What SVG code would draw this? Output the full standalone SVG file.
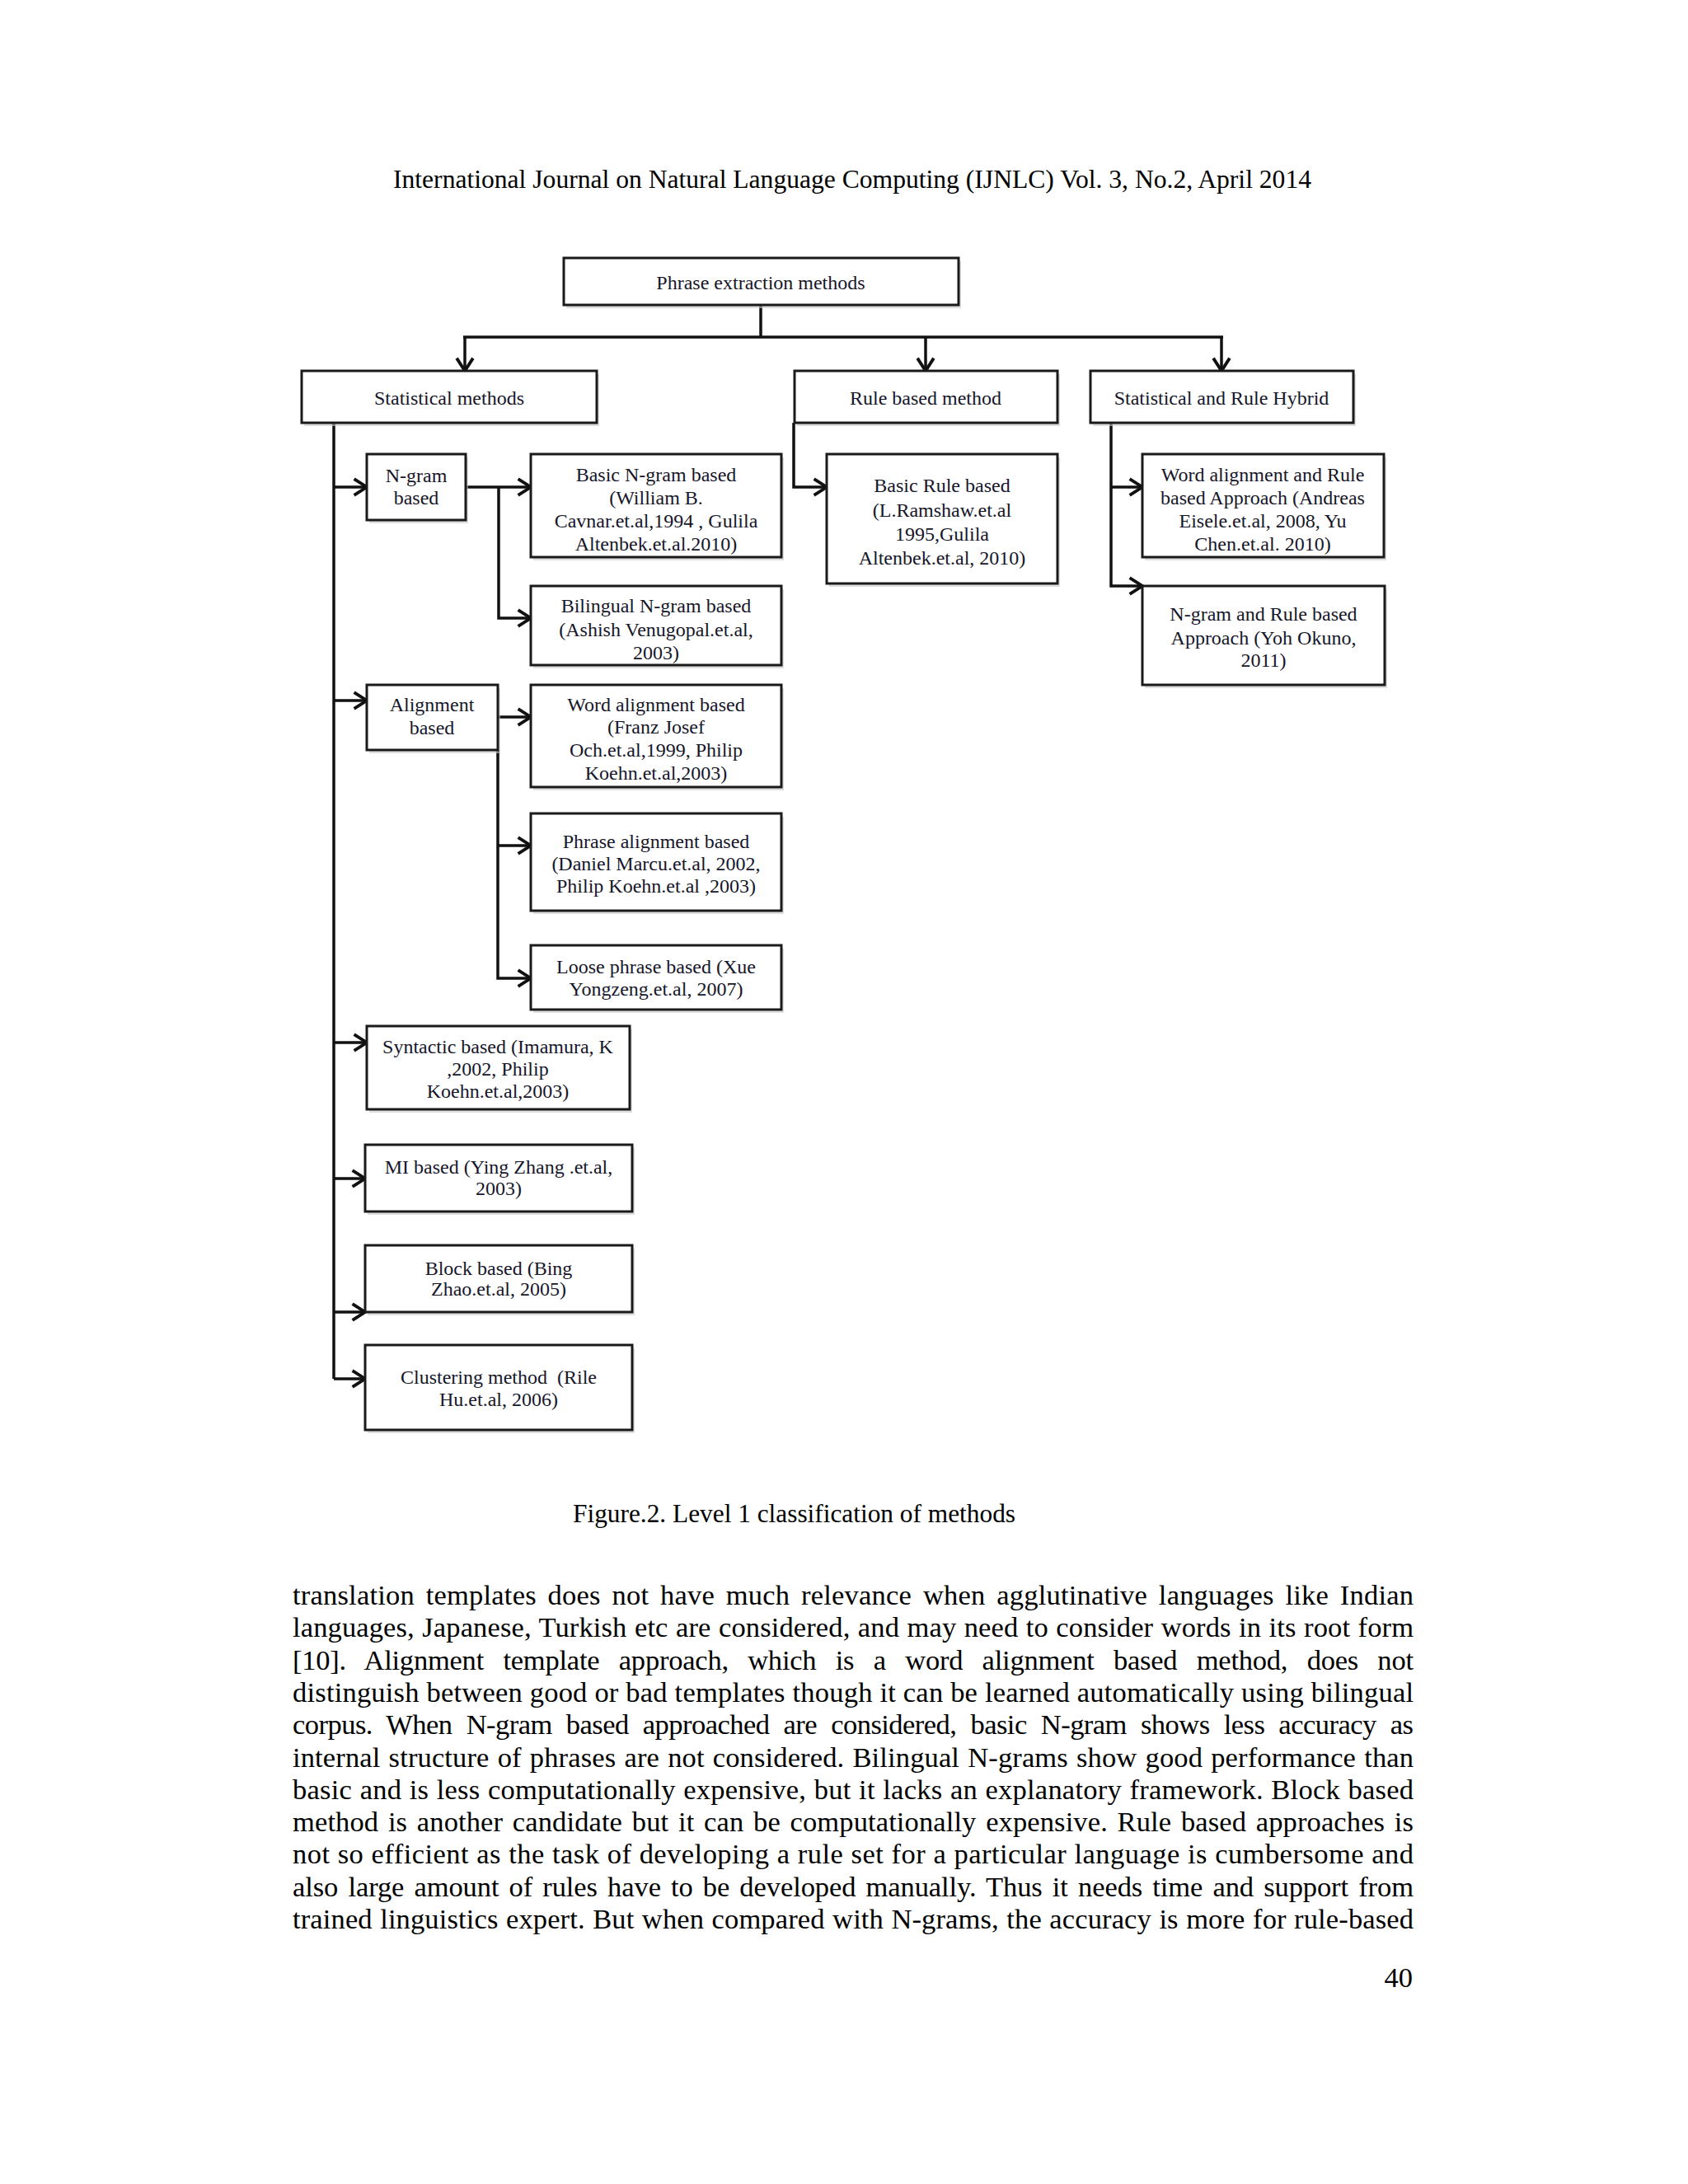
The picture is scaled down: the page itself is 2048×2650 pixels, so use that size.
<svg xmlns="http://www.w3.org/2000/svg" width="2048" height="2650" viewBox="0 0 2048 2650">
<defs>
<style>
.bx{fill:#fff;stroke:#1a1a1a;stroke-width:3}
.sh{fill:#c8c8c8;opacity:.6}
.t{font-family:"Liberation Serif","Times New Roman",serif;font-size:24px;fill:#16162a;text-anchor:middle}
.c{fill:none;stroke:#111;stroke-width:3.5}
.pg{font-family:"Liberation Serif","Times New Roman",serif;fill:#000}
</style>
<marker id="ah" markerUnits="userSpaceOnUse" markerWidth="22" markerHeight="24" refX="16" refY="10" orient="auto" viewBox="0 0 20 20">
<path d="M2,1 L16,10 L2,19" fill="none" stroke="#111" stroke-width="3.5"/>
</marker>
</defs>
<rect width="2048" height="2650" fill="#fff"/>

<text class="pg" x="477" y="228" font-size="31.4" textLength="1114" lengthAdjust="spacingAndGlyphs">International Journal on Natural Language Computing (IJNLC) Vol. 3, No.2, April 2014</text>

<g id="connectors">
<path class="c" d="M923 370 V409"/>
<path class="c" d="M562 409 H1484" stroke-width="5"/>
<path class="c" d="M564 409 V450" marker-end="url(#ah)"/>
<path class="c" d="M1123 409 V450" marker-end="url(#ah)"/>
<path class="c" d="M1482 409 V450" marker-end="url(#ah)"/>
<path class="c" d="M405 513 V1673"/>
<path class="c" d="M405 591 H445" marker-end="url(#ah)"/>
<path class="c" d="M405 850 H445" marker-end="url(#ah)"/>
<path class="c" d="M405 1265 H445" marker-end="url(#ah)"/>
<path class="c" d="M405 1430 H443" marker-end="url(#ah)"/>
<path class="c" d="M405 1592 H443" marker-end="url(#ah)"/>
<path class="c" d="M405 1673 H443" marker-end="url(#ah)"/>
<path class="c" d="M565 591 H644" marker-end="url(#ah)"/>
<path class="c" d="M605 591 V750 H644" marker-end="url(#ah)"/>
<path class="c" d="M604 870 H644" marker-end="url(#ah)"/>
<path class="c" d="M604 910 V1187 H644" marker-end="url(#ah)"/>
<path class="c" d="M604 1026 H644" marker-end="url(#ah)"/>
<path class="c" d="M963 513 V591 H1003" marker-end="url(#ah)"/>
<path class="c" d="M1348 513 V711 H1386" marker-end="url(#ah)"/>
<path class="c" d="M1348 591 H1386" marker-end="url(#ah)"/>
</g>

<g id="root">
<rect class="sh" x="687" y="317" width="479" height="57"/>
<rect class="bx" x="684" y="313" width="479" height="57"/>
<text class="t" x="923" y="351">Phrase extraction methods</text>
</g>
<g id="statistical">
<rect class="sh" x="369" y="454" width="358" height="63"/>
<rect class="bx" x="366" y="450" width="358" height="63"/>
<text class="t" x="545" y="491">Statistical methods</text>
</g>
<g id="rulebased">
<rect class="sh" x="967" y="454" width="319" height="63"/>
<rect class="bx" x="964" y="450" width="319" height="63"/>
<text class="t" x="1123" y="491">Rule based method</text>
</g>
<g id="hybrid">
<rect class="sh" x="1326" y="454" width="319" height="63"/>
<rect class="bx" x="1323" y="450" width="319" height="63"/>
<text class="t" x="1482" y="491">Statistical and Rule Hybrid</text>
</g>

<g id="ngram">
<rect class="sh" x="448" y="555" width="120" height="80"/>
<rect class="bx" x="445" y="551" width="120" height="80"/>
<text class="t" x="505" y="585">N-gram</text>
<text class="t" x="505" y="612">based</text>
</g>
<g id="basic-ngram">
<rect class="sh" x="647" y="555" width="304" height="125"/>
<rect class="bx" x="644" y="551" width="304" height="125"/>
<text class="t" x="796" y="584">Basic N-gram based</text>
<text class="t" x="796" y="612">(William B.</text>
<text class="t" x="796" y="640">Cavnar.et.al,1994 , Gulila</text>
<text class="t" x="796" y="668">Altenbek.et.al.2010)</text>
</g>
<g id="bilingual-ngram">
<rect class="sh" x="647" y="715" width="304" height="96"/>
<rect class="bx" x="644" y="711" width="304" height="96"/>
<text class="t" x="796" y="743">Bilingual N-gram based</text>
<text class="t" x="796" y="772">(Ashish Venugopal.et.al,</text>
<text class="t" x="796" y="800">2003)</text>
</g>
<g id="alignment">
<rect class="sh" x="448" y="835" width="159" height="79"/>
<rect class="bx" x="445" y="831" width="159" height="79"/>
<text class="t" x="524" y="863">Alignment</text>
<text class="t" x="524" y="891">based</text>
</g>
<g id="word-alignment">
<rect class="sh" x="647" y="835" width="304" height="124"/>
<rect class="bx" x="644" y="831" width="304" height="124"/>
<text class="t" x="796" y="863">Word alignment based</text>
<text class="t" x="796" y="890">(Franz Josef</text>
<text class="t" x="796" y="918">Och.et.al,1999, Philip</text>
<text class="t" x="796" y="946">Koehn.et.al,2003)</text>
</g>
<g id="phrase-alignment">
<rect class="sh" x="647" y="991" width="304" height="118"/>
<rect class="bx" x="644" y="987" width="304" height="118"/>
<text class="t" x="796" y="1029">Phrase alignment based</text>
<text class="t" x="796" y="1056">(Daniel Marcu.et.al, 2002,</text>
<text class="t" x="796" y="1083">Philip Koehn.et.al ,2003)</text>
</g>
<g id="loose-phrase">
<rect class="sh" x="647" y="1151" width="304" height="78"/>
<rect class="bx" x="644" y="1147" width="304" height="78"/>
<text class="t" x="796" y="1181">Loose phrase based (Xue</text>
<text class="t" x="796" y="1208">Yongzeng.et.al, 2007)</text>
</g>
<g id="syntactic">
<rect class="sh" x="448" y="1249" width="319" height="101"/>
<rect class="bx" x="445" y="1245" width="319" height="101"/>
<text class="t" x="604" y="1278">Syntactic based (Imamura, K</text>
<text class="t" x="604" y="1305">,2002, Philip</text>
<text class="t" x="604" y="1332">Koehn.et.al,2003)</text>
</g>
<g id="mi">
<rect class="sh" x="446" y="1393" width="324" height="81"/>
<rect class="bx" x="443" y="1389" width="324" height="81"/>
<text class="t" x="605" y="1424">MI based (Ying Zhang .et.al,</text>
<text class="t" x="605" y="1450">2003)</text>
</g>
<g id="block">
<rect class="sh" x="446" y="1515" width="324" height="81"/>
<rect class="bx" x="443" y="1511" width="324" height="81"/>
<text class="t" x="605" y="1547">Block based (Bing</text>
<text class="t" x="605" y="1572">Zhao.et.al, 2005)</text>
</g>
<g id="clustering">
<rect class="sh" x="446" y="1636" width="324" height="103"/>
<rect class="bx" x="443" y="1632" width="324" height="103"/>
<text class="t" x="605" y="1679" xml:space="preserve">Clustering method  (Rile</text>
<text class="t" x="605" y="1706">Hu.et.al, 2006)</text>
</g>
<g id="basic-rule">
<rect class="sh" x="1006" y="555" width="280" height="157"/>
<rect class="bx" x="1003" y="551" width="280" height="157"/>
<text class="t" x="1143" y="597">Basic Rule based</text>
<text class="t" x="1143" y="627">(L.Ramshaw.et.al</text>
<text class="t" x="1143" y="656">1995,Gulila</text>
<text class="t" x="1143" y="685">Altenbek.et.al, 2010)</text>
</g>
<g id="word-alignment-rule">
<rect class="sh" x="1389" y="555" width="293" height="125"/>
<rect class="bx" x="1386" y="551" width="293" height="125"/>
<text class="t" x="1532" y="584">Word alignment and Rule</text>
<text class="t" x="1532" y="612">based Approach (Andreas</text>
<text class="t" x="1532" y="640">Eisele.et.al, 2008, Yu</text>
<text class="t" x="1532" y="668">Chen.et.al. 2010)</text>
</g>
<g id="ngram-rule">
<rect class="sh" x="1389" y="715" width="294" height="120"/>
<rect class="bx" x="1386" y="711" width="294" height="120"/>
<text class="t" x="1533" y="753">N-gram and Rule based</text>
<text class="t" x="1533" y="782">Approach (Yoh Okuno,</text>
<text class="t" x="1533" y="809">2011)</text>
</g>

<text class="pg" x="695" y="1847" font-size="31.3" textLength="537" lengthAdjust="spacingAndGlyphs">Figure.2. Level 1 classification of methods</text>

<g class="pg" font-size="34.5">
<text x="355" y="1947" word-spacing="5" textLength="1360" lengthAdjust="spacing">translation templates does not have much relevance when agglutinative languages like Indian</text>
<text x="355" y="1986.3" word-spacing="0.7" textLength="1360" lengthAdjust="spacing">languages, Japanese, Turkish etc are considered, and may need to consider words in its root form</text>
<text x="355" y="2025.6" word-spacing="15" textLength="1360" lengthAdjust="spacing">[10]. Alignment template approach, which is a word alignment based method, does not</text>
<text x="355" y="2064.9" word-spacing="0" textLength="1360" lengthAdjust="spacing">distinguish between good or bad templates though it can be learned automatically using bilingual</text>
<text x="355" y="2104.2" word-spacing="9" textLength="1360" lengthAdjust="spacing">corpus. When N-gram based approached are considered, basic N-gram shows less accuracy as</text>
<text x="355" y="2143.5" word-spacing="1.4" textLength="1360" lengthAdjust="spacing">internal structure of phrases are not considered. Bilingual N-grams show good performance than</text>
<text x="355" y="2182.8" word-spacing="0.7" textLength="1360" lengthAdjust="spacing">basic and is less computationally expensive, but it lacks an explanatory framework. Block based</text>
<text x="355" y="2222.1" word-spacing="3" textLength="1360" lengthAdjust="spacing">method is another candidate but it can be computationally expensive. Rule based approaches is</text>
<text x="355" y="2261.4" word-spacing="0.2" textLength="1360" lengthAdjust="spacing">not so efficient as the task of developing a rule set for a particular language is cumbersome and</text>
<text x="355" y="2300.7" word-spacing="3.6" textLength="1360" lengthAdjust="spacing">also large amount of rules have to be developed manually. Thus it needs time and support from</text>
<text x="355" y="2340" word-spacing="0.7" textLength="1360" lengthAdjust="spacing">trained linguistics expert. But when compared with N-grams, the accuracy is more for rule-based</text>
<text x="1714" y="2411" text-anchor="end">40</text>
</g>
</svg>
